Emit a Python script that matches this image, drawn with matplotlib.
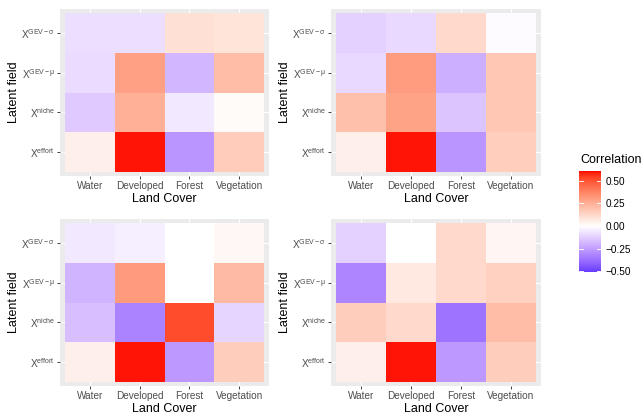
import numpy as np
import matplotlib
matplotlib.use("Agg")
import matplotlib.pyplot as plt
from matplotlib.colors import ListedColormap, Normalize

plt.rcParams["font.family"] = ["Liberation Sans", "DejaVu Sans"]
plt.rcParams["mathtext.fontset"] = "custom"
plt.rcParams["mathtext.rm"] = "Liberation Sans"
plt.rcParams["mathtext.it"] = "Liberation Sans:italic"

# categories
land_cover = ["Water", "Developed", "Forest", "Vegetation"]
# latent fields, bottom row first
latent_fields = [r"$\mathregular{X^{effort}}$", r"$\mathregular{X^{niche}}$",
                 r"$\mathregular{X^{GEV−μ}}$", r"$\mathregular{X^{GEV−σ}}$"]

# correlations, rows = latent fields (effort, niche, GEV-mu, GEV-sigma), cols = land cover
corr_top_left = [[0.05, 0.60, -0.28, 0.165],
                 [-0.14, 0.25, -0.06, 0.015],
                 [-0.09, 0.30, -0.19, 0.21],
                 [-0.085, -0.085, 0.10, 0.085]]
corr_top_right = [[0.05, 0.60, -0.28, 0.155],
                  [0.20, 0.29, -0.15, 0.18],
                  [-0.10, 0.31, -0.21, 0.18],
                  [-0.12, -0.10, 0.12, -0.01]]
corr_bottom_left = [[0.05, 0.60, -0.27, 0.16],
                    [-0.17, -0.33, 0.52, -0.11],
                    [-0.195, 0.315, 0.0, 0.22],
                    [-0.06, -0.04, 0.0, 0.025]]
corr_bottom_right = [[0.05, 0.60, -0.27, 0.16],
                     [0.16, 0.12, -0.37, 0.21],
                     [-0.32, 0.07, 0.12, 0.145],
                     [-0.12, 0.0, 0.12, 0.03]]

corr_limits = (-0.51, 0.61)
legend_breaks = [-0.50, -0.25, 0.0, 0.25, 0.50]


# --- colour scale: blue - white - red, interpolated in CIELAB like ggplot ---
def srgb_to_lab(rgb):
    rgb = np.asarray(rgb, float)
    lin = np.where(rgb <= 0.04045, rgb / 12.92, ((rgb + 0.055) / 1.055) ** 2.4)
    m = np.array([[0.4124, 0.3576, 0.1805],
                  [0.2126, 0.7152, 0.0722],
                  [0.0193, 0.1192, 0.9505]])
    xyz = m @ lin / np.array([0.95047, 1.0, 1.08883])
    f = np.where(xyz > 0.008856, np.cbrt(xyz), 7.787 * xyz + 16 / 116)
    return np.array([116 * f[1] - 16, 500 * (f[0] - f[1]), 200 * (f[1] - f[2])])


def lab_to_srgb(lab):
    L, a, b = lab
    fy = (L + 16) / 116
    f = np.array([fy + a / 500, fy, fy - b / 200])
    xyz = np.where(f > 0.2069, f ** 3, (f - 16 / 116) / 7.787) * np.array([0.95047, 1.0, 1.08883])
    m = np.array([[3.2406, -1.5372, -0.4986],
                  [-0.9689, 1.8758, 0.0415],
                  [0.0557, -0.2040, 1.0570]])
    lin = np.clip(m @ xyz, 0, 1)
    rgb = np.where(lin <= 0.0031308, 12.92 * lin, 1.055 * lin ** (1 / 2.4) - 0.055)
    return np.clip(rgb, 0, 1)


lab_low = srgb_to_lab([0, 0, 1])
lab_mid = srgb_to_lab([1, 1, 1])
lab_high = srgb_to_lab([1, 0, 0])
colours = []
for t in np.linspace(0, 1, 511):
    if t < 0.5:
        s = t / 0.5
        lab = lab_low + (lab_mid - lab_low) * s
    else:
        s = (t - 0.5) / 0.5
        lab = lab_mid + (lab_high - lab_mid) * s
    colours.append(lab_to_srgb(lab))
cmap = ListedColormap(colours)
M = max(abs(corr_limits[0]), abs(corr_limits[1]))
norm = Normalize(-M, M)

W, H = 644, 417
fig = plt.figure(figsize=(W / 72, H / 72), dpi=72)

TICK_SIZE = 10
TITLE_SIZE = 12.5


def px_axes(x0, y0, x1, y1):
    return fig.add_axes([x0 / W, 1 - y1 / H, (x1 - x0) / W, (y1 - y0) / H])


def draw_panel(ax, vals):
    edges = np.arange(5) - 0.5
    ax.set_facecolor("#EBEBEB")
    ax.pcolormesh(edges, edges, np.array(vals), cmap=cmap, norm=norm,
                  antialiased=False, linewidth=0, zorder=2)
    ax.set_xlim(-0.6, 3.6)
    ax.set_ylim(-0.6, 3.6)
    ax.set_xticks(range(4))
    ax.set_xticklabels(land_cover)
    ax.set_yticks(range(4))
    ax.set_yticklabels(latent_fields)
    ax.grid(color="white", linewidth=1.1, zorder=1)
    ax.set_axisbelow(True)
    for s in ax.spines.values():
        s.set_visible(False)
    ax.tick_params(color="#333333", labelcolor="#4D4D4D", length=2.75,
                   width=0.9, labelsize=TICK_SIZE, pad=2.2)
    ax.set_xlabel("Land Cover", fontsize=TITLE_SIZE, labelpad=2.0)
    ax.set_ylabel("Latent field", fontsize=TITLE_SIZE, labelpad=1.0)


draw_panel(px_axes(60, 9, 269, 176), corr_top_left)
draw_panel(px_axes(331, 9, 541, 176), corr_top_right)
draw_panel(px_axes(60, 219, 269, 386), corr_bottom_left)
draw_panel(px_axes(331, 219, 541, 386), corr_bottom_right)

# legend colourbar
cax = px_axes(579, 171, 601, 272)
grad = np.linspace(corr_limits[0], corr_limits[1], 300).reshape(-1, 1)
cax.imshow(grad, cmap=cmap, norm=norm, aspect="auto", origin="lower",
           extent=[0, 1, corr_limits[0], corr_limits[1]], interpolation="nearest")
for v in legend_breaks:
    cax.plot([0, 0.2], [v, v], color="white", linewidth=0.9)
    cax.plot([0.8, 1], [v, v], color="white", linewidth=0.9)
cax.set_xlim(0, 1)
cax.set_ylim(corr_limits)
cax.set_xticks([])
cax.yaxis.tick_right()
cax.set_yticks(legend_breaks)
cax.set_yticklabels([f"{v:.2f}".replace("-", "−") for v in legend_breaks])
cax.tick_params(length=0, labelsize=TICK_SIZE, pad=4.5, labelcolor="black")
for s in cax.spines.values():
    s.set_visible(False)
fig.text(580 / W, 1 - 160 / H, "Correlation", fontsize=TITLE_SIZE, ha="left", va="center")

fig.savefig("out.png", dpi=72)
